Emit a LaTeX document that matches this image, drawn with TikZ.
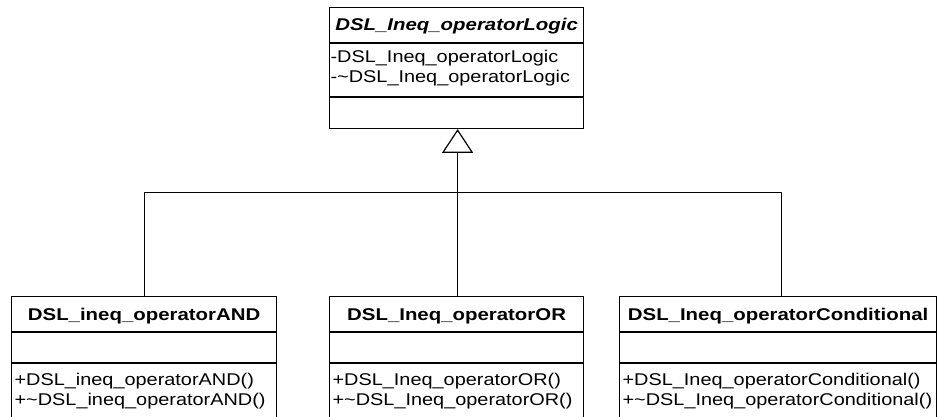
\documentclass[tikz,border=0pt]{standalone}
\usepackage{fontspec}
\setmainfont{Liberation Sans}
\usetikzlibrary{calc}
% widened text, as the class boxes are set in a loose sans
\newcommand{\wide}[1]{\scalebox{1.2}[1]{#1}}
\newcommand{\mwide}[1]{\scalebox{1.17}[1]{#1}}

\begin{document}
\begin{tikzpicture}[x=1pt,y=-1pt,line width=1.2pt,
  classbox/.style={draw,rectangle,anchor=north west,inner sep=0pt,fill=white},
  classname/.style={anchor=base,inner sep=0pt,font=\fontsize{17}{20}\selectfont\bfseries},
  member/.style={anchor=base west,inner sep=0pt,font=\fontsize{17}{20}\selectfont},
  hollowhead/.style={draw,fill=white,line join=miter}]

\useasboundingbox (0,0) rectangle (938,416);
\fill[white] (0,0) rectangle (938,416);
\clip (0,0) rectangle (938,416);

% abstract base class
\node[classbox,minimum width=254pt,minimum height=121pt] (logic) at (329,7) {};
\draw ($(logic.north west)+(0,36)$) -- ($(logic.north east)+(0,36)$);
\draw ($(logic.north west)+(0,90)$) -- ($(logic.north east)+(0,90)$);
\node[classname] (logicname) at ($(logic.north)+(0,23)$) {\wide{\itshape DSL\_Ineq\_operatorLogic}};
\node[member] (logicm1) at ($(logic.north west)+(1,55)$) {\mwide{-DSL\_Ineq\_operatorLogic}};
\node[member] (logicm2) at ($(logic.north west)+(1,75)$) {\mwide{-\textasciitilde DSL\_Ineq\_operatorLogic}};

% subclasses
\node[classbox,minimum width=265pt,minimum height=130pt] (and) at (11,296) {};
\node[classbox,minimum width=254pt,minimum height=130pt] (or) at (329,296) {};
\node[classbox,minimum width=317pt,minimum height=130pt] (cond) at (619,296) {};

\foreach \b in {and,or,cond}{
  \draw ($(\b.north west)+(0,36)$) -- ($(\b.north east)+(0,36)$);
  \draw ($(\b.north west)+(0,67)$) -- ($(\b.north east)+(0,67)$);
}

\node[classname] (andname) at ($(and.north)+(0,24)$) {\wide{DSL\_ineq\_operatorAND}};
\node[member] (andm1) at ($(and.north west)+(3,89)$) {\mwide{+DSL\_ineq\_operatorAND()}};
\node[member] (andm2) at ($(and.north west)+(3,109)$) {\mwide{+\textasciitilde DSL\_ineq\_operatorAND()}};

\node[classname] (orname) at ($(or.north)+(0,24)$) {\wide{DSL\_Ineq\_operatorOR}};
\node[member] (orm1) at ($(or.north west)+(3,89)$) {\mwide{+DSL\_Ineq\_operatorOR()}};
\node[member] (orm2) at ($(or.north west)+(3,109)$) {\mwide{+\textasciitilde DSL\_Ineq\_operatorOR()}};

\node[classname] (condname) at ($(cond.north)+(0,24)$) {\wide{DSL\_Ineq\_operatorConditional}};
\node[member] (condm1) at ($(cond.north west)+(3,89)$) {\mwide{+DSL\_Ineq\_operatorConditional()}};
\node[member] (condm2) at ($(cond.north west)+(3,109)$) {\mwide{+\textasciitilde DSL\_Ineq\_operatorConditional()}};

% generalization tree: branches meet at a junction, one stem runs up
% to the hollow triangle under the base class
\coordinate (tip) at ($(logic.south)+(1,1)$);
\coordinate (tribase) at ($(tip)+(0,22)$);
\coordinate (jn) at ($(tip)+(0,62)$);
\coordinate (andtop) at (and.north);
\coordinate (condtop) at ($(cond.north)+(3,0)$);
\draw (andtop) |- (jn) -| (condtop);
\draw (or.north -| jn) -- (jn) -- (tribase);
\draw[hollowhead] (tip) -- ($(tribase)+(-14.5,0)$) -- ($(tribase)+(14.5,0)$) -- cycle;
\end{tikzpicture}
\end{document}
